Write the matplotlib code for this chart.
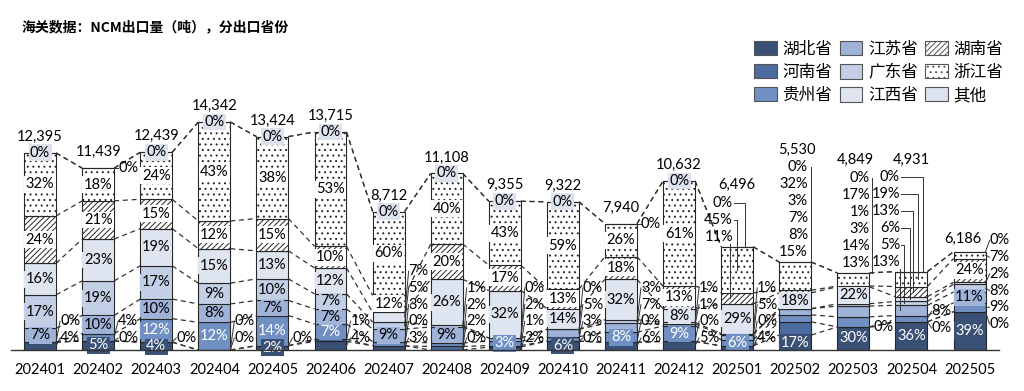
import matplotlib.pyplot as plt
from matplotlib.patches import Patch
import numpy as np

plt.rcParams['font.family'] = ['Lato', 'Noto Sans CJK SC', 'DejaVu Sans']
plt.rcParams['hatch.linewidth'] = 0.7
plt.rcParams['hatch.color'] = '#222222'

months = ['202401', '202402', '202403', '202404', '202405', '202406', '202407', '202408', '202409',
          '202410', '202411', '202412', '202501', '202502', '202503', '202504', '202505']
totals = [12395, 11439, 12439, 14342, 13424, 13715, 8712, 11108, 9355,
          9322, 7940, 10632, 6496, 5530, 4849, 4931, 6186]

provinces = ['湖北省', '河南省', '贵州省', '江苏省', '广东省', '江西省', '湖南省', '浙江省', '其他']

# share of each province (%), None = not shown
hubei     = [4, 5, 4, 0, 2, 4, 3, 0, 2, 6, 6, 5, 4, 17, 30, 36, 39]
henan     = [0, 0, 0, 0, 0, 1, 0, 2, 1, 0, 0, 0, 0, 15, 0, 0, 0]
guizhou   = [None, 4, 12, 12, 14, 7, 3, 2, 3, 3, 8, 9, 6, 8, 13, 8, 9]
jiangsu   = [7, 10, 10, 8, 7, 7, 9, 9, 2, 5, 7, 1, 5, 7, 14, 13, 11]
guangdong = [17, 19, 17, 9, 10, 7, 5, 1, 0, 0, 3, 1, 1, None, 3, 5, 8]
jiangxi   = [16, 23, 19, 15, 13, 12, 7, 26, 32, 14, 32, 8, 29, 18, 22, 6, 2]
hunan     = [24, 21, 15, 12, 15, 10, 12, 20, 17, 13, 18, 13, 11, 3, 1, 13, 24]
zhejiang  = [32, 18, 24, 43, 38, 53, 60, 40, 43, 59, 26, 61, 45, 32, 17, 19, 7]
other     = [0, 0, 0, 0, 0, 0, 0, 0, 0, 0, 0, 0, 0, 0, 0, 0, 0]

shares = [hubei, henan, guizhou, jiangsu, guangdong, jiangxi, hunan, zhejiang, other]

colors = ['#3A5075', '#4C6B9F', '#7090C4', '#9FB3D8', '#C3CFE6', '#DEE4F0', 'white', 'white', '#DCE2EE']
hatches = [None, None, None, None, None, None, '//////', '...', None]
hatch_colors = ['#222222'] * 7 + ['#6a6a6a', '#222222']
text_colors = ['white', 'white', 'white'] + ['black'] * 6
box_colors = colors[:6] + ['white', 'white', colors[8]]

# where each label goes: i=inside, r=right of bar, t=right at bar top, c=column above, -=none
placement = ['rr-iiiiii', 'irriiiiit', 'iriiiiiii', 'rriiiiiii', 'iriiiiiii', 'rriiiiiii',
             'rrrirriii', 'rrririiii', 'rrirriiii', 'irrrriiii', 'rrirriiit', 'rrirriiii',
             'rrirriccc', 'iccc-iccc', 'irccciccc', 'irrcccccc', 'irrirrirr']
right_start = {14: 327, 15: 328, 16: 324}
columns = {12: dict(x=733, y=203, leaders=[8, 0, -7]),
           13: dict(x=808, y=167, spine=811),
           14: dict(x=870, y=178, spine=872),
           15: dict(x=900, y=177, leaders=[11.5, 6.5, 1.5, -1.5, -7.5, -11.5])}
total_pos = {12: (737, 185), 13: (797, 150), 14: (855, 160), 15: (911, 160), 16: (963, 239)}

YTOP = 19500
PX = 58.1
YPX = YTOP / 310
FS = 10.5


def xpx(px):
    return (px - 40) / PX


def ypx(py):
    return (350 - py) * YPX


n = len(months)
vals = np.array([[0 if v is None else v for v in s] for s in shares], dtype=float)
seg = vals / vals.sum(axis=0) * np.array(totals)
bottoms = np.vstack([np.zeros(n), np.cumsum(seg, axis=0)[:-1]])
tops = bottoms + seg
mids = bottoms + seg / 2

fig = plt.figure(figsize=(10.24, 3.91), dpi=100)
ax = fig.add_axes([11 / 1024, 41 / 391, 987.6 / 1024, 310 / 391])
ax.set_xlim(-0.5, n - 0.5)
ax.set_ylim(0, YTOP)

x = np.arange(n)
W = 0.55
handles = []
for k in range(9):
    plt.rcParams['hatch.color'] = hatch_colors[k]
    ax.bar(x, seg[k], W, bottom=bottoms[k], color=colors[k], edgecolor='#262626',
           linewidth=0.8, hatch=hatches[k], zorder=2)
    handles.append(Patch(facecolor=colors[k], edgecolor='#555555', hatch=hatches[k], lw=0.8))

# series lines between bars
for i in range(n - 1):
    for k in range(9):
        ax.plot([x[i] + W / 2, x[i + 1] - W / 2], [tops[k, i], tops[k, i + 1]],
                color='#333333', lw=0.9, ls=(0, (4, 3)), zorder=1)

lead = dict(color='#333333', lw=0.7, zorder=3)
for i in range(n):
    right = x[i] + W / 2
    j = 0
    for k in range(9):
        p = placement[i][k]
        v = shares[k][i]
        if v is None or p == '-':
            continue
        lab = f'{v}%'
        if p == 'i':
            ax.text(x[i], mids[k, i], lab, ha='center', va='center', color=text_colors[k], fontsize=FS,
                    bbox=dict(boxstyle='square,pad=0.1', fc=box_colors[k], ec='none'), zorder=4)
        elif p == 'r':
            ly = ypx(right_start.get(i, 338) - 16.7 * j)
            j += 1
            lx = right + 4 / PX
            ax.text(lx, ly, lab, ha='left', va='center', fontsize=FS, zorder=4)
            ax.plot([right, lx], [mids[k, i], ly], **lead)
        elif p == 't':
            lx = right + 4 / PX
            ax.text(lx, tops[k, i], lab, ha='left', va='center', fontsize=FS, zorder=4)
            ax.plot([right, lx], [tops[k, i], tops[k, i]], **lead)

    if i in columns:
        col = columns[i]
        ks = [k for k in range(8, -1, -1) if placement[i][k] == 'c']
        for m, k in enumerate(ks):
            py = col['y'] + 17 * m
            ax.text(xpx(col['x']), ypx(py), f'{shares[k][i]}%', ha='right', va='center', fontsize=FS, zorder=4)
            if 'leaders' in col:
                lxp = 737.2 + (i - 12) * PX + col['leaders'][m]
                if lxp > col['x'] + 1:
                    ax.plot([xpx(col['x'] + 1), xpx(lxp), xpx(lxp)], [ypx(py), ypx(py), mids[k, i]], **lead)
                else:
                    ax.plot([xpx(lxp), xpx(lxp)], [ypx(py + 7), mids[k, i]], **lead)
        if 'spine' in col:
            ax.plot([xpx(col['spine'])] * 2, [ypx(col['y']), tops[-1, i]], **lead)

    if i in total_pos:
        tx, ty = total_pos[i]
        tx, ty = xpx(tx), ypx(ty)
    else:
        tx, ty = x[i], tops[-1, i] + 16 * YPX
    ax.text(tx, ty, f'{totals[i]:,}', ha='center', va='center', fontsize=FS, zorder=4)

ax.set_xticks(x, months)
ax.tick_params(axis='x', length=0, pad=9, labelsize=FS)
ax.set_yticks([])
for s in ['left', 'right', 'top']:
    ax.spines[s].set_visible(False)
ax.spines['bottom'].set_color('#333333')
ax.spines['bottom'].set_linewidth(1.0)
ax.spines['bottom'].set_zorder(5)

fig.legend(handles, provinces, ncol=3, loc='upper left', bbox_to_anchor=(754 / 1024, 1 - 41 / 391), frameon=False,
           fontsize=12, handlelength=1.35, handleheight=0.95, handletextpad=0.35, columnspacing=0.45,
           labelspacing=0.42, borderaxespad=0, borderpad=0)

fig.text(22 / 1024, 1 - 27 / 391, '海关数据：NCM出口量（吨），分出口省份', fontsize=10, fontweight='bold',
         family=['Noto Sans CJK SC'], ha='left', va='center')

fig.savefig('out.png', dpi=100)
